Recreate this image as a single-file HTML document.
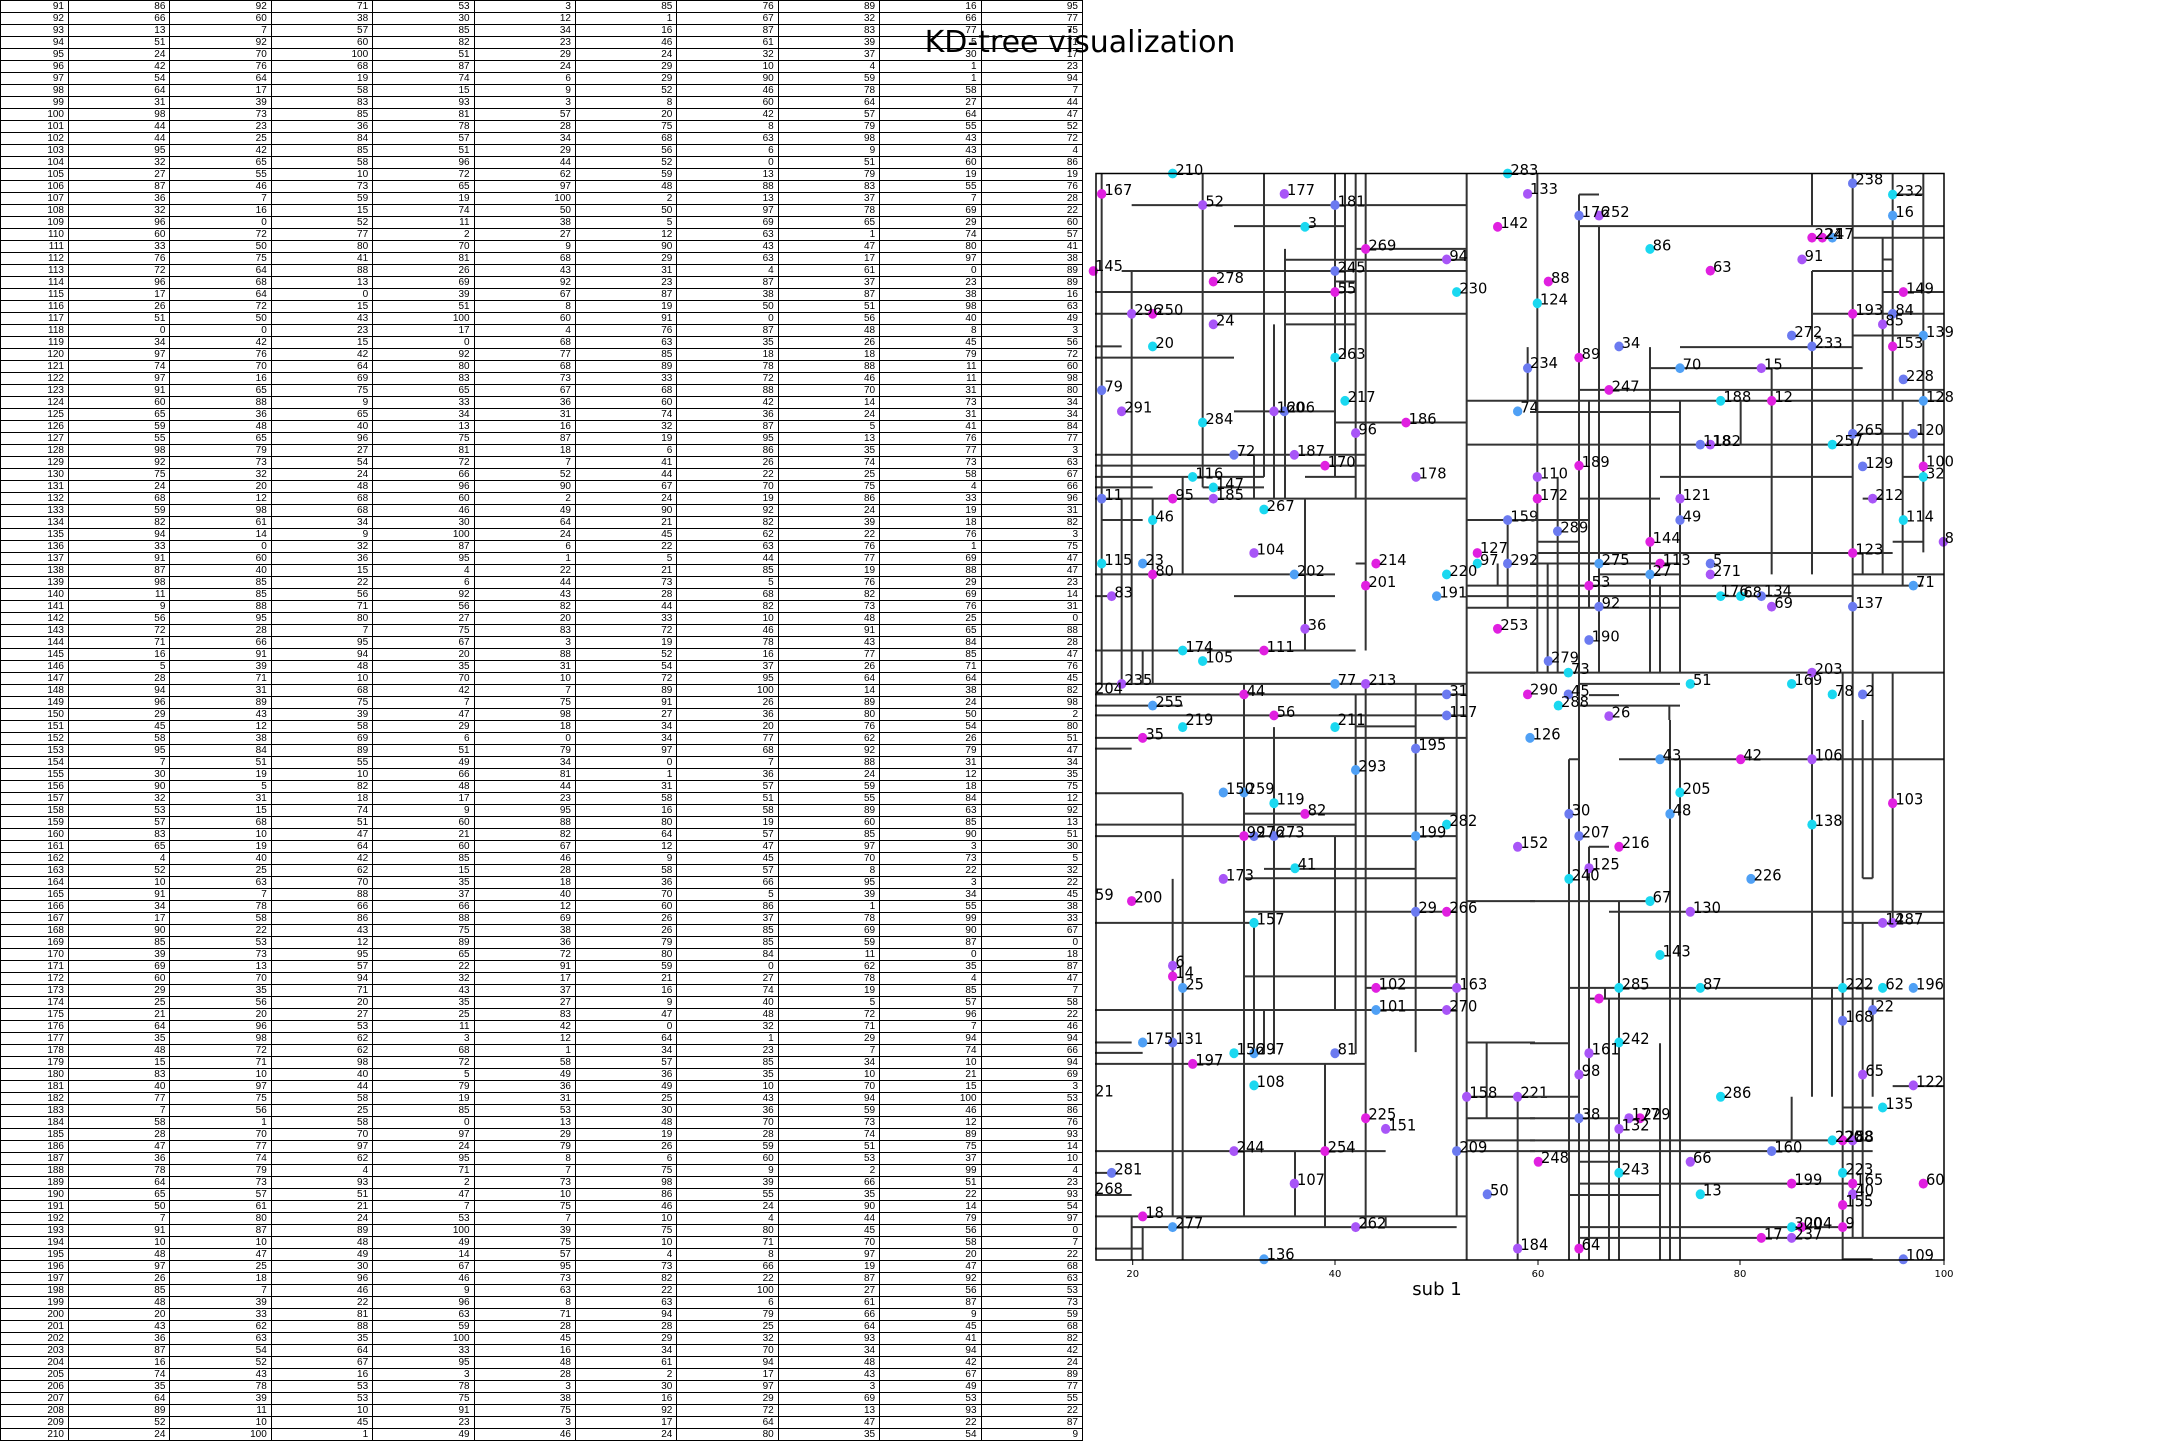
<!DOCTYPE html>
<html><head><meta charset="utf-8"><style>
html,body{margin:0;padding:0;background:#fff;width:2160px;height:1440px;overflow:hidden}
table{position:absolute;left:0;top:0;border-collapse:collapse;font-family:"Liberation Sans Narrow","Liberation Sans",sans-serif;font-size:10px;table-layout:fixed;width:1083px}
td{height:11px;line-height:11px;padding:0 4px 0 0;border:1px solid #000;text-align:right;overflow:hidden;white-space:nowrap}
td:first-child{width:63px}
svg{position:absolute;left:0;top:0}
.m{fill:#e020e0}.p{fill:#a855f7}.b{fill:#6b7af0}.l{fill:#4fa0f5}.c{fill:#1ad8f0}
.ln{fill:none;stroke:#333;stroke-width:2}
.lb{font-family:"DejaVu Sans","Liberation Sans",sans-serif;font-size:44px;fill:#000}
</style></head><body>
<table>
<tr><td>91<td>86<td>92<td>71<td>53<td>3<td>85<td>76<td>89<td>16<td>95
<tr><td>92<td>66<td>60<td>38<td>30<td>12<td>1<td>67<td>32<td>66<td>77
<tr><td>93<td>13<td>7<td>57<td>85<td>34<td>16<td>87<td>83<td>77<td>75
<tr><td>94<td>51<td>92<td>60<td>82<td>23<td>46<td>61<td>39<td>5<td>71
<tr><td>95<td>24<td>70<td>100<td>51<td>29<td>24<td>32<td>37<td>30<td>17
<tr><td>96<td>42<td>76<td>68<td>87<td>24<td>29<td>10<td>4<td>1<td>23
<tr><td>97<td>54<td>64<td>19<td>74<td>6<td>29<td>90<td>59<td>1<td>94
<tr><td>98<td>64<td>17<td>58<td>15<td>9<td>52<td>46<td>78<td>58<td>7
<tr><td>99<td>31<td>39<td>83<td>93<td>3<td>8<td>60<td>64<td>27<td>44
<tr><td>100<td>98<td>73<td>85<td>81<td>57<td>20<td>42<td>57<td>64<td>47
<tr><td>101<td>44<td>23<td>36<td>78<td>28<td>75<td>8<td>79<td>55<td>52
<tr><td>102<td>44<td>25<td>84<td>57<td>34<td>68<td>63<td>98<td>43<td>72
<tr><td>103<td>95<td>42<td>85<td>51<td>29<td>56<td>6<td>9<td>43<td>4
<tr><td>104<td>32<td>65<td>58<td>96<td>44<td>52<td>0<td>51<td>60<td>86
<tr><td>105<td>27<td>55<td>10<td>72<td>62<td>59<td>13<td>79<td>19<td>19
<tr><td>106<td>87<td>46<td>73<td>65<td>97<td>48<td>88<td>83<td>55<td>76
<tr><td>107<td>36<td>7<td>59<td>19<td>100<td>2<td>13<td>37<td>7<td>28
<tr><td>108<td>32<td>16<td>15<td>74<td>50<td>50<td>97<td>78<td>69<td>22
<tr><td>109<td>96<td>0<td>52<td>11<td>38<td>5<td>69<td>65<td>29<td>60
<tr><td>110<td>60<td>72<td>77<td>2<td>27<td>12<td>63<td>1<td>74<td>57
<tr><td>111<td>33<td>50<td>80<td>70<td>9<td>90<td>43<td>47<td>80<td>41
<tr><td>112<td>76<td>75<td>41<td>81<td>68<td>29<td>63<td>17<td>97<td>38
<tr><td>113<td>72<td>64<td>88<td>26<td>43<td>31<td>4<td>61<td>0<td>89
<tr><td>114<td>96<td>68<td>13<td>69<td>92<td>23<td>87<td>37<td>23<td>89
<tr><td>115<td>17<td>64<td>0<td>39<td>67<td>87<td>38<td>87<td>38<td>16
<tr><td>116<td>26<td>72<td>15<td>51<td>8<td>19<td>50<td>51<td>98<td>63
<tr><td>117<td>51<td>50<td>43<td>100<td>60<td>91<td>0<td>56<td>40<td>49
<tr><td>118<td>0<td>0<td>23<td>17<td>4<td>76<td>87<td>48<td>8<td>3
<tr><td>119<td>34<td>42<td>15<td>0<td>68<td>63<td>35<td>26<td>45<td>56
<tr><td>120<td>97<td>76<td>42<td>92<td>77<td>85<td>18<td>18<td>79<td>72
<tr><td>121<td>74<td>70<td>64<td>80<td>68<td>89<td>78<td>88<td>11<td>60
<tr><td>122<td>97<td>16<td>69<td>83<td>73<td>33<td>72<td>46<td>11<td>98
<tr><td>123<td>91<td>65<td>75<td>65<td>67<td>68<td>88<td>70<td>31<td>80
<tr><td>124<td>60<td>88<td>9<td>33<td>36<td>60<td>42<td>14<td>73<td>34
<tr><td>125<td>65<td>36<td>65<td>34<td>31<td>74<td>36<td>24<td>31<td>34
<tr><td>126<td>59<td>48<td>40<td>13<td>16<td>32<td>87<td>5<td>41<td>84
<tr><td>127<td>55<td>65<td>96<td>75<td>87<td>19<td>95<td>13<td>76<td>77
<tr><td>128<td>98<td>79<td>27<td>81<td>18<td>6<td>86<td>35<td>77<td>3
<tr><td>129<td>92<td>73<td>54<td>72<td>7<td>41<td>26<td>74<td>73<td>63
<tr><td>130<td>75<td>32<td>24<td>66<td>52<td>44<td>22<td>25<td>58<td>67
<tr><td>131<td>24<td>20<td>48<td>96<td>90<td>67<td>70<td>75<td>4<td>66
<tr><td>132<td>68<td>12<td>68<td>60<td>2<td>24<td>19<td>86<td>33<td>96
<tr><td>133<td>59<td>98<td>68<td>46<td>49<td>90<td>92<td>24<td>19<td>31
<tr><td>134<td>82<td>61<td>34<td>30<td>64<td>21<td>82<td>39<td>18<td>82
<tr><td>135<td>94<td>14<td>9<td>100<td>24<td>45<td>62<td>22<td>76<td>3
<tr><td>136<td>33<td>0<td>32<td>87<td>6<td>22<td>63<td>76<td>1<td>75
<tr><td>137<td>91<td>60<td>36<td>95<td>1<td>5<td>44<td>77<td>69<td>47
<tr><td>138<td>87<td>40<td>15<td>4<td>22<td>21<td>85<td>19<td>88<td>47
<tr><td>139<td>98<td>85<td>22<td>6<td>44<td>73<td>5<td>76<td>29<td>23
<tr><td>140<td>11<td>85<td>56<td>92<td>43<td>28<td>68<td>82<td>69<td>14
<tr><td>141<td>9<td>88<td>71<td>56<td>82<td>44<td>82<td>73<td>76<td>31
<tr><td>142<td>56<td>95<td>80<td>27<td>20<td>33<td>10<td>48<td>25<td>0
<tr><td>143<td>72<td>28<td>7<td>75<td>83<td>72<td>46<td>91<td>65<td>88
<tr><td>144<td>71<td>66<td>95<td>67<td>3<td>19<td>78<td>43<td>84<td>28
<tr><td>145<td>16<td>91<td>94<td>20<td>88<td>52<td>16<td>77<td>85<td>47
<tr><td>146<td>5<td>39<td>48<td>35<td>31<td>54<td>37<td>26<td>71<td>76
<tr><td>147<td>28<td>71<td>10<td>70<td>10<td>72<td>95<td>64<td>64<td>45
<tr><td>148<td>94<td>31<td>68<td>42<td>7<td>89<td>100<td>14<td>38<td>82
<tr><td>149<td>96<td>89<td>75<td>7<td>75<td>91<td>26<td>89<td>24<td>98
<tr><td>150<td>29<td>43<td>39<td>47<td>98<td>27<td>36<td>80<td>50<td>2
<tr><td>151<td>45<td>12<td>58<td>29<td>18<td>34<td>20<td>76<td>54<td>80
<tr><td>152<td>58<td>38<td>69<td>6<td>0<td>34<td>77<td>62<td>26<td>51
<tr><td>153<td>95<td>84<td>89<td>51<td>79<td>97<td>68<td>92<td>79<td>47
<tr><td>154<td>7<td>51<td>55<td>49<td>34<td>0<td>7<td>88<td>31<td>34
<tr><td>155<td>30<td>19<td>10<td>66<td>81<td>1<td>36<td>24<td>12<td>35
<tr><td>156<td>90<td>5<td>82<td>48<td>44<td>31<td>57<td>59<td>18<td>75
<tr><td>157<td>32<td>31<td>18<td>17<td>23<td>58<td>51<td>55<td>84<td>12
<tr><td>158<td>53<td>15<td>74<td>9<td>95<td>16<td>58<td>89<td>63<td>92
<tr><td>159<td>57<td>68<td>51<td>60<td>88<td>80<td>19<td>60<td>85<td>13
<tr><td>160<td>83<td>10<td>47<td>21<td>82<td>64<td>57<td>85<td>90<td>51
<tr><td>161<td>65<td>19<td>64<td>60<td>67<td>12<td>47<td>97<td>3<td>30
<tr><td>162<td>4<td>40<td>42<td>85<td>46<td>9<td>45<td>70<td>73<td>5
<tr><td>163<td>52<td>25<td>62<td>15<td>28<td>58<td>57<td>8<td>22<td>32
<tr><td>164<td>10<td>63<td>70<td>35<td>18<td>36<td>66<td>95<td>3<td>22
<tr><td>165<td>91<td>7<td>88<td>37<td>40<td>70<td>5<td>39<td>34<td>45
<tr><td>166<td>34<td>78<td>66<td>66<td>12<td>60<td>86<td>1<td>55<td>38
<tr><td>167<td>17<td>58<td>86<td>88<td>69<td>26<td>37<td>78<td>99<td>33
<tr><td>168<td>90<td>22<td>43<td>75<td>38<td>26<td>85<td>69<td>90<td>67
<tr><td>169<td>85<td>53<td>12<td>89<td>36<td>79<td>85<td>59<td>87<td>0
<tr><td>170<td>39<td>73<td>95<td>65<td>72<td>80<td>84<td>11<td>0<td>18
<tr><td>171<td>69<td>13<td>57<td>22<td>91<td>59<td>0<td>62<td>35<td>87
<tr><td>172<td>60<td>70<td>94<td>32<td>17<td>21<td>27<td>78<td>4<td>47
<tr><td>173<td>29<td>35<td>71<td>43<td>37<td>16<td>74<td>19<td>85<td>7
<tr><td>174<td>25<td>56<td>20<td>35<td>27<td>9<td>40<td>5<td>57<td>58
<tr><td>175<td>21<td>20<td>27<td>25<td>83<td>47<td>48<td>72<td>96<td>22
<tr><td>176<td>64<td>96<td>53<td>11<td>42<td>0<td>32<td>71<td>7<td>46
<tr><td>177<td>35<td>98<td>62<td>3<td>12<td>64<td>1<td>29<td>94<td>94
<tr><td>178<td>48<td>72<td>62<td>68<td>1<td>34<td>23<td>7<td>74<td>66
<tr><td>179<td>15<td>71<td>98<td>72<td>58<td>57<td>85<td>34<td>10<td>94
<tr><td>180<td>83<td>10<td>40<td>5<td>49<td>36<td>35<td>10<td>21<td>69
<tr><td>181<td>40<td>97<td>44<td>79<td>36<td>49<td>10<td>70<td>15<td>3
<tr><td>182<td>77<td>75<td>58<td>19<td>31<td>25<td>43<td>94<td>100<td>53
<tr><td>183<td>7<td>56<td>25<td>85<td>53<td>30<td>36<td>59<td>46<td>86
<tr><td>184<td>58<td>1<td>58<td>0<td>13<td>48<td>70<td>73<td>12<td>76
<tr><td>185<td>28<td>70<td>70<td>97<td>29<td>19<td>28<td>74<td>89<td>93
<tr><td>186<td>47<td>77<td>97<td>24<td>79<td>26<td>59<td>51<td>75<td>14
<tr><td>187<td>36<td>74<td>62<td>95<td>8<td>6<td>60<td>53<td>37<td>10
<tr><td>188<td>78<td>79<td>4<td>71<td>7<td>75<td>9<td>2<td>99<td>4
<tr><td>189<td>64<td>73<td>93<td>2<td>73<td>98<td>39<td>66<td>51<td>23
<tr><td>190<td>65<td>57<td>51<td>47<td>10<td>86<td>55<td>35<td>22<td>93
<tr><td>191<td>50<td>61<td>21<td>7<td>75<td>46<td>24<td>90<td>14<td>54
<tr><td>192<td>7<td>80<td>24<td>53<td>7<td>10<td>4<td>44<td>79<td>97
<tr><td>193<td>91<td>87<td>89<td>100<td>39<td>75<td>80<td>45<td>56<td>0
<tr><td>194<td>10<td>10<td>48<td>49<td>75<td>10<td>71<td>70<td>58<td>7
<tr><td>195<td>48<td>47<td>49<td>14<td>57<td>4<td>8<td>97<td>20<td>22
<tr><td>196<td>97<td>25<td>30<td>67<td>95<td>73<td>66<td>19<td>47<td>68
<tr><td>197<td>26<td>18<td>96<td>46<td>73<td>82<td>22<td>87<td>92<td>63
<tr><td>198<td>85<td>7<td>46<td>9<td>63<td>22<td>100<td>27<td>56<td>53
<tr><td>199<td>48<td>39<td>22<td>96<td>8<td>63<td>6<td>61<td>87<td>73
<tr><td>200<td>20<td>33<td>81<td>63<td>71<td>94<td>79<td>66<td>9<td>59
<tr><td>201<td>43<td>62<td>88<td>59<td>28<td>28<td>25<td>64<td>45<td>68
<tr><td>202<td>36<td>63<td>35<td>100<td>45<td>29<td>32<td>93<td>41<td>82
<tr><td>203<td>87<td>54<td>64<td>33<td>16<td>34<td>70<td>34<td>94<td>42
<tr><td>204<td>16<td>52<td>67<td>95<td>48<td>61<td>94<td>48<td>42<td>24
<tr><td>205<td>74<td>43<td>16<td>3<td>28<td>2<td>17<td>43<td>67<td>89
<tr><td>206<td>35<td>78<td>53<td>78<td>3<td>30<td>97<td>3<td>49<td>77
<tr><td>207<td>64<td>39<td>53<td>75<td>38<td>16<td>29<td>69<td>53<td>55
<tr><td>208<td>89<td>11<td>10<td>91<td>75<td>92<td>72<td>13<td>93<td>22
<tr><td>209<td>52<td>10<td>45<td>23<td>3<td>17<td>64<td>47<td>22<td>87
<tr><td>210<td>24<td>100<td>1<td>49<td>46<td>24<td>80<td>35<td>54<td>9
</table>
<svg width="2160" height="1440" viewBox="0 0 2160 1440">
<text x="1080" y="52" text-anchor="middle" font-family="DejaVu Sans, Liberation Sans, sans-serif" font-size="30">KD-tree visualization</text>

<!-- Q1 -->
<g transform="translate(1095,170) scale(0.33333,0.35075)">
<path class="ln" vector-effect="non-scaling-stroke" d="M20 10V1465 M323 10V905 M507 10V875 M720 10V875 M750 10V535 M782 10V935 M812 10V1370 M1115 10V1568 M110 288V1465 M570 225V935 M537 440V935 M477 812V935 M263 875V1153 M173 935V1465 M80 935V1465 M143 1370V1465 M630 935V1370 M1298 505V660 M1208 1122V1185 M1238 998V1248 M447 1465V1568 M962 1465V1568 M782 1495V1568 M812 1465V1568 M1085 1495V1568 M110 100H1115 M417 160H750 M782 225H1115 M570 256H1115 M80 288H1115 M720 318H782 M0 348H782 M0 410H1115 M570 440H782 M0 503H80 M0 535H417 M417 688H720 M720 720H1115 M0 812H812 M0 843H812 M0 875H507 M630 875H782 M0 905H173 M323 905H507 M0 937H1115 M20 998H143 M0 1153H720 M782 1122H812 M0 1215H50 M417 1215H720 M0 1370H782 M0 1465H1115 M0 1495H1115 M0 1527H263 M0 1555H1115 M1115 658H1320 M1115 783H1320 M1115 998H1320 M1115 1185H1320 M1115 1215H1320 M1115 1248H1320 M1115 1433H1320"/>
<g>
<circle cx="20" cy="68" r="14" class="m"/><circle cx="323" cy="100" r="14" class="p"/><circle cx="568" cy="68" r="14" class="p"/><circle cx="720" cy="100" r="14" class="b"/><circle cx="630" cy="162" r="14" class="c"/><circle cx="812" cy="225" r="14" class="m"/><circle cx="1055" cy="255" r="14" class="p"/><circle cx="-5" cy="288" r="14" class="m"/><circle cx="355" cy="318" r="14" class="m"/><circle cx="720" cy="288" r="14" class="b"/><circle cx="720" cy="348" r="14" class="m"/><circle cx="1085" cy="348" r="14" class="c"/><circle cx="110" cy="410" r="14" class="p"/><circle cx="173" cy="410" r="14" class="m"/><circle cx="355" cy="440" r="14" class="p"/><circle cx="173" cy="503" r="14" class="c"/><circle cx="720" cy="535" r="14" class="c"/><circle cx="20" cy="628" r="14" class="b"/><circle cx="80" cy="688" r="14" class="p"/><circle cx="323" cy="720" r="14" class="c"/><circle cx="537" cy="688" r="14" class="p"/><circle cx="568" cy="688" r="14" class="b"/><circle cx="750" cy="658" r="14" class="c"/><circle cx="933" cy="720" r="14" class="m"/><circle cx="782" cy="750" r="14" class="p"/><circle cx="417" cy="812" r="14" class="b"/><circle cx="598" cy="812" r="14" class="p"/><circle cx="690" cy="843" r="14" class="m"/><circle cx="963" cy="875" r="14" class="p"/><circle cx="293" cy="875" r="14" class="c"/><circle cx="355" cy="905" r="14" class="c"/><circle cx="355" cy="937" r="14" class="p"/><circle cx="233" cy="937" r="14" class="m"/><circle cx="20" cy="937" r="14" class="b"/><circle cx="507" cy="968" r="14" class="c"/><circle cx="173" cy="998" r="14" class="c"/><circle cx="477" cy="1092" r="14" class="p"/><circle cx="20" cy="1122" r="14" class="c"/><circle cx="143" cy="1122" r="14" class="l"/><circle cx="173" cy="1153" r="14" class="m"/><circle cx="598" cy="1153" r="14" class="l"/><circle cx="843" cy="1122" r="14" class="m"/><circle cx="812" cy="1185" r="14" class="m"/><circle cx="1055" cy="1153" r="14" class="c"/><circle cx="1025" cy="1215" r="14" class="l"/><circle cx="1147" cy="1092" r="14" class="m"/><circle cx="1147" cy="1122" r="14" class="c"/><circle cx="1238" cy="1122" r="14" class="b"/><circle cx="50" cy="1215" r="14" class="p"/><circle cx="630" cy="1308" r="14" class="p"/><circle cx="1208" cy="1308" r="14" class="m"/><circle cx="263" cy="1370" r="14" class="c"/><circle cx="507" cy="1370" r="14" class="m"/><circle cx="323" cy="1400" r="14" class="c"/><circle cx="80" cy="1465" r="14" class="p"/><circle cx="720" cy="1465" r="14" class="l"/><circle cx="812" cy="1465" r="14" class="p"/><circle cx="447" cy="1495" r="14" class="m"/><circle cx="1055" cy="1495" r="14" class="b"/><circle cx="173" cy="1527" r="14" class="l"/><circle cx="537" cy="1555" r="14" class="m"/><circle cx="1055" cy="1555" r="14" class="b"/><circle cx="1208" cy="162" r="14" class="m"/><circle cx="1298" cy="68" r="14" class="p"/><circle cx="1238" cy="998" r="14" class="b"/><circle cx="1268" cy="688" r="14" class="l"/><circle cx="233" cy="10" r="14" class="c"/><circle cx="1238" cy="10" r="14" class="c"/><circle cx="1298" cy="565" r="14" class="b"/><circle cx="1298" cy="1495" r="14" class="m"/>
</g>
<g class="lb">
<text x="28" y="72">167</text><text x="331" y="104">52</text><text x="576" y="72">177</text><text x="728" y="104">181</text><text x="638" y="166">3</text><text x="820" y="229">269</text><text x="1063" y="259">94</text><text x="0" y="288">145</text><text x="363" y="322">278</text><text x="728" y="292">245</text><text x="728" y="352">55</text><text x="1093" y="352">230</text><text x="118" y="414">296</text><text x="181" y="414">250</text><text x="363" y="444">24</text><text x="181" y="507">20</text><text x="728" y="539">263</text><text x="28" y="632">79</text><text x="88" y="692">291</text><text x="331" y="724">284</text><text x="545" y="692">160</text><text x="576" y="692">206</text><text x="758" y="662">217</text><text x="941" y="724">186</text><text x="790" y="754">96</text><text x="425" y="816">72</text><text x="606" y="816">187</text><text x="698" y="847">170</text><text x="971" y="879">178</text><text x="301" y="879">116</text><text x="363" y="909">147</text><text x="363" y="941">185</text><text x="241" y="941">95</text><text x="28" y="941">11</text><text x="515" y="972">267</text><text x="181" y="1002">46</text><text x="485" y="1096">104</text><text x="28" y="1126">115</text><text x="151" y="1126">23</text><text x="181" y="1157">80</text><text x="606" y="1157">202</text><text x="851" y="1126">214</text><text x="820" y="1189">201</text><text x="1063" y="1157">220</text><text x="1033" y="1219">191</text><text x="1155" y="1092">127</text><text x="1155" y="1126">97</text><text x="1246" y="1126">292</text><text x="58" y="1219">83</text><text x="638" y="1312">36</text><text x="1216" y="1312">253</text><text x="271" y="1374">174</text><text x="515" y="1374">111</text><text x="331" y="1404">105</text><text x="88" y="1469">235</text><text x="728" y="1469">77</text><text x="820" y="1469">213</text><text x="0" y="1492">204</text><text x="455" y="1499">44</text><text x="1063" y="1499">31</text><text x="181" y="1531">255</text><text x="545" y="1559">56</text><text x="1063" y="1559">117</text><text x="1216" y="166">142</text><text x="241" y="14">210</text><text x="1246" y="14">283</text><text x="1246" y="1002">159</text><text x="1276" y="692">74</text>
</g></g>

<!-- Q2 -->
<g transform="translate(1530,170) scale(0.33333,0.35075)">
<path class="ln" vector-effect="non-scaling-stroke" d="M22 10V1433 M147 70V1568 M207 160V1433 M177 658V1248 M360 505V1433 M390 1185V1433 M450 658V1433 M632 658V783 M725 565V1153 M846 10V160 M846 288V1153 M846 1433V1568 M968 10V1568 M1058 195V1153 M1088 10V655 M1088 1433V1568 M1180 10V1090 M1118 658V1185 M998 1092V1153 M53 1122V1433 M83 875V1433 M938 1433V1568 M1028 1433V1568 M418 1527V1568 M147 70H207 M1088 70H1180 M147 160H1243 M968 193H1243 M1058 255H1088 M846 288H1088 M1058 348H1243 M846 410H1243 M968 472H1180 M450 505H968 M360 565H998 M147 627H1243 M0 658H1243 M0 690H450 M0 783H1243 M968 752H1180 M390 875H968 M1118 875H1180 M147 937H390 M998 937H1060 M0 998H177 M22 1060H147 M1088 1060H1180 M22 1092H1088 M0 1122H450 M207 1153H450 M968 1153H1243 M0 1185H1180 M0 1215H968 M0 1248H450 M0 1433H1243 M147 1465H450 M177 1497H267 M147 1527H450"/>
<g>
<circle cx="968" cy="38" r="14" class="b"/><circle cx="1088" cy="70" r="14" class="c"/><circle cx="1088" cy="130" r="14" class="l"/><circle cx="147" cy="130" r="14" class="b"/><circle cx="207" cy="130" r="14" class="p"/><circle cx="360" cy="225" r="14" class="c"/><circle cx="541" cy="287" r="14" class="m"/><circle cx="816" cy="255" r="14" class="p"/><circle cx="846" cy="193" r="14" class="m"/><circle cx="877" cy="193" r="14" class="m"/><circle cx="907" cy="193" r="14" class="l"/><circle cx="55" cy="318" r="14" class="m"/><circle cx="22" cy="380" r="14" class="c"/><circle cx="1120" cy="348" r="14" class="m"/><circle cx="968" cy="410" r="14" class="m"/><circle cx="1088" cy="410" r="14" class="b"/><circle cx="1058" cy="440" r="14" class="p"/><circle cx="1180" cy="472" r="14" class="l"/><circle cx="785" cy="472" r="14" class="b"/><circle cx="846" cy="503" r="14" class="b"/><circle cx="1088" cy="503" r="14" class="m"/><circle cx="267" cy="503" r="14" class="b"/><circle cx="147" cy="535" r="14" class="m"/><circle cx="450" cy="565" r="14" class="l"/><circle cx="694" cy="565" r="14" class="p"/><circle cx="1120" cy="597" r="14" class="b"/><circle cx="237" cy="627" r="14" class="m"/><circle cx="572" cy="658" r="14" class="c"/><circle cx="725" cy="658" r="14" class="m"/><circle cx="1180" cy="658" r="14" class="l"/><circle cx="511" cy="783" r="14" class="b"/><circle cx="541" cy="783" r="14" class="p"/><circle cx="907" cy="783" r="14" class="c"/><circle cx="968" cy="752" r="14" class="b"/><circle cx="1150" cy="752" r="14" class="b"/><circle cx="998" cy="845" r="14" class="b"/><circle cx="1180" cy="845" r="14" class="m"/><circle cx="1180" cy="875" r="14" class="c"/><circle cx="147" cy="843" r="14" class="m"/><circle cx="22" cy="875" r="14" class="p"/><circle cx="22" cy="937" r="14" class="m"/><circle cx="450" cy="937" r="14" class="p"/><circle cx="1028" cy="937" r="14" class="p"/><circle cx="450" cy="998" r="14" class="b"/><circle cx="1120" cy="998" r="14" class="c"/><circle cx="83" cy="1030" r="14" class="b"/><circle cx="360" cy="1060" r="14" class="m"/><circle cx="1240" cy="1060" r="14" class="p"/><circle cx="968" cy="1092" r="14" class="m"/><circle cx="207" cy="1122" r="14" class="l"/><circle cx="390" cy="1122" r="14" class="m"/><circle cx="541" cy="1122" r="14" class="b"/><circle cx="360" cy="1153" r="14" class="l"/><circle cx="541" cy="1153" r="14" class="p"/><circle cx="177" cy="1185" r="14" class="m"/><circle cx="1150" cy="1185" r="14" class="l"/><circle cx="572" cy="1215" r="14" class="c"/><circle cx="632" cy="1215" r="14" class="c"/><circle cx="694" cy="1215" r="14" class="b"/><circle cx="725" cy="1245" r="14" class="p"/><circle cx="207" cy="1245" r="14" class="b"/><circle cx="968" cy="1245" r="14" class="b"/><circle cx="177" cy="1340" r="14" class="b"/><circle cx="55" cy="1400" r="14" class="b"/><circle cx="115" cy="1433" r="14" class="c"/><circle cx="846" cy="1433" r="14" class="p"/><circle cx="481" cy="1465" r="14" class="c"/><circle cx="785" cy="1465" r="14" class="c"/><circle cx="115" cy="1495" r="14" class="b"/><circle cx="907" cy="1495" r="14" class="c"/><circle cx="998" cy="1495" r="14" class="b"/><circle cx="85" cy="1527" r="14" class="c"/><circle cx="237" cy="1557" r="14" class="p"/>
</g>
<g class="lb">
<text x="976" y="42">238</text><text x="1096" y="74">232</text><text x="1096" y="134">16</text><text x="155" y="134">176</text><text x="215" y="134">252</text><text x="368" y="229">86</text><text x="549" y="291">63</text><text x="824" y="259">91</text><text x="854" y="197">224</text><text x="885" y="197">21</text><text x="915" y="197">47</text><text x="63" y="322">88</text><text x="30" y="384">124</text><text x="1128" y="352">149</text><text x="976" y="414">193</text><text x="1096" y="414">84</text><text x="1066" y="444">85</text><text x="1188" y="476">139</text><text x="793" y="476">272</text><text x="854" y="507">233</text><text x="1096" y="507">153</text><text x="275" y="507">34</text><text x="155" y="539">89</text><text x="0" y="565">234</text><text x="458" y="569">70</text><text x="702" y="569">15</text><text x="1128" y="601">228</text><text x="245" y="631">247</text><text x="580" y="662">188</text><text x="733" y="662">12</text><text x="1188" y="662">128</text><text x="519" y="787">118</text><text x="549" y="787">182</text><text x="915" y="787">257</text><text x="976" y="756">265</text><text x="1158" y="756">120</text><text x="1006" y="849">129</text><text x="1188" y="845">100</text><text x="1188" y="879">32</text><text x="155" y="847">189</text><text x="30" y="879">110</text><text x="30" y="941">172</text><text x="458" y="941">121</text><text x="1036" y="941">212</text><text x="458" y="1002">49</text><text x="1128" y="1002">114</text><text x="91" y="1034">289</text><text x="368" y="1064">144</text><text x="1244" y="1064">8</text><text x="976" y="1096">123</text><text x="215" y="1126">275</text><text x="398" y="1126">113</text><text x="549" y="1126">5</text><text x="368" y="1157">27</text><text x="549" y="1157">271</text><text x="185" y="1189">53</text><text x="1158" y="1189">71</text><text x="572" y="1215">176</text><text x="640" y="1219">68</text><text x="702" y="1215">134</text><text x="733" y="1249">69</text><text x="215" y="1249">92</text><text x="976" y="1249">137</text><text x="185" y="1344">190</text><text x="63" y="1404">279</text><text x="123" y="1437">73</text><text x="854" y="1437">203</text><text x="489" y="1469">51</text><text x="793" y="1469">169</text><text x="0" y="1495">290</text><text x="123" y="1499">45</text><text x="915" y="1499">78</text><text x="1006" y="1499">2</text><text x="93" y="1531">288</text><text x="245" y="1561">26</text><text x="0" y="68">133</text>
</g></g>

<!-- Q3 -->
<g transform="translate(1095,720) scale(0.33333,0.35714)">
<path class="ln" vector-effect="non-scaling-stroke" d="M447 0V1390 M537 20V935 M782 0V935 M812 0V1420 M962 0V930 M1085 0V1390 M1115 0V1512 M263 205V1512 M233 445V1390 M477 568V935 M507 812V935 M720 325V810 M690 963V1420 M600 1207V1390 M110 1390V1512 M143 1420V1512 M1175 903V1115 M1268 1055V1512 M872 1390V1420 M782 18H962 M0 50H1115 M0 80H110 M0 205H263 M447 262H1085 M0 293H782 M0 325H1085 M507 417H962 M447 443H1085 M1115 507H1320 M447 537H1085 M0 568H477 M447 718H1085 M812 750H1085 M0 812H1085 M0 903H110 M1115 903H1320 M0 932H143 M0 963H812 M1115 1055H1320 M1115 1115H1320 M1115 1177H1320 M0 1207H872 M1115 1207H1320 M0 1268H50 M0 1330H110 M0 1390H1115 M110 1420H1085 M0 1480H143"/>
<g>
<circle cx="143" cy="50" r="14" class="m"/><circle cx="263" cy="20" r="14" class="c"/><circle cx="720" cy="20" r="14" class="c"/><circle cx="962" cy="80" r="14" class="b"/><circle cx="782" cy="140" r="14" class="l"/><circle cx="385" cy="203" r="14" class="l"/><circle cx="447" cy="203" r="14" class="l"/><circle cx="537" cy="233" r="14" class="c"/><circle cx="630" cy="263" r="14" class="m"/><circle cx="1055" cy="293" r="14" class="c"/><circle cx="447" cy="325" r="14" class="m"/><circle cx="477" cy="325" r="14" class="b"/><circle cx="537" cy="325" r="14" class="b"/><circle cx="962" cy="325" r="14" class="l"/><circle cx="1268" cy="355" r="14" class="p"/><circle cx="600" cy="415" r="14" class="c"/><circle cx="385" cy="445" r="14" class="p"/><circle cx="110" cy="507" r="14" class="m"/><circle cx="962" cy="537" r="14" class="b"/><circle cx="1055" cy="537" r="14" class="m"/><circle cx="477" cy="568" r="14" class="c"/><circle cx="233" cy="688" r="14" class="p"/><circle cx="233" cy="718" r="14" class="m"/><circle cx="263" cy="750" r="14" class="l"/><circle cx="843" cy="750" r="14" class="m"/><circle cx="1085" cy="750" r="14" class="p"/><circle cx="843" cy="812" r="14" class="l"/><circle cx="1055" cy="812" r="14" class="p"/><circle cx="143" cy="903" r="14" class="l"/><circle cx="233" cy="903" r="14" class="b"/><circle cx="417" cy="933" r="14" class="c"/><circle cx="477" cy="933" r="14" class="l"/><circle cx="720" cy="933" r="14" class="b"/><circle cx="293" cy="963" r="14" class="m"/><circle cx="477" cy="1023" r="14" class="c"/><circle cx="1115" cy="1055" r="14" class="p"/><circle cx="1268" cy="1055" r="14" class="p"/><circle cx="812" cy="1115" r="14" class="m"/><circle cx="872" cy="1145" r="14" class="p"/><circle cx="417" cy="1207" r="14" class="p"/><circle cx="690" cy="1207" r="14" class="m"/><circle cx="1085" cy="1207" r="14" class="b"/><circle cx="50" cy="1268" r="14" class="b"/><circle cx="598" cy="1298" r="14" class="p"/><circle cx="1177" cy="1328" r="14" class="b"/><circle cx="143" cy="1390" r="14" class="m"/><circle cx="233" cy="1420" r="14" class="l"/><circle cx="782" cy="1420" r="14" class="p"/><circle cx="507" cy="1510" r="14" class="l"/><circle cx="1268" cy="1480" r="14" class="p"/>
</g>
<g class="lb">
<text x="151" y="54">35</text><text x="271" y="14">219</text><text x="728" y="14">211</text><text x="970" y="84">195</text><text x="790" y="144">293</text><text x="393" y="207">150</text><text x="455" y="207">259</text><text x="545" y="237">119</text><text x="638" y="267">82</text><text x="1063" y="297">282</text><text x="455" y="329">99</text><text x="485" y="329">276</text><text x="545" y="329">273</text><text x="970" y="329">199</text><text x="1276" y="359">152</text><text x="608" y="419">41</text><text x="393" y="449">173</text><text x="118" y="511">200</text><text x="970" y="541">29</text><text x="1063" y="541">266</text><text x="485" y="572">157</text><text x="241" y="692">6</text><text x="241" y="722">14</text><text x="271" y="754">25</text><text x="851" y="754">102</text><text x="1093" y="754">163</text><text x="851" y="816">101</text><text x="1063" y="816">270</text><text x="151" y="907">175</text><text x="241" y="907">131</text><text x="425" y="937">156</text><text x="485" y="937">297</text><text x="728" y="937">81</text><text x="301" y="967">197</text><text x="485" y="1027">108</text><text x="0" y="1054">21</text><text x="1123" y="1059">158</text><text x="1276" y="1059">221</text><text x="820" y="1119">225</text><text x="880" y="1149">151</text><text x="425" y="1211">244</text><text x="698" y="1211">254</text><text x="1093" y="1211">209</text><text x="58" y="1272">281</text><text x="606" y="1302">107</text><text x="1185" y="1332">50</text><text x="0" y="1327">268</text><text x="151" y="1394">18</text><text x="241" y="1424">277</text><text x="790" y="1424">262</text><text x="515" y="1510">136</text><text x="1276" y="1484">184</text><text x="0" y="504">59</text>
</g></g>

<!-- Q4 -->
<g transform="translate(1530,720) scale(0.33333,0.35714)">
<path class="ln" vector-effect="non-scaling-stroke" d="M147 0V1512 M117 110V1512 M420 0V1512 M450 110V1512 M177 355V1512 M267 507V1512 M237 780V1512 M390 905V1512 M846 0V1055 M938 0V1512 M968 0V1450 M998 0V443 M1028 0V443 M998 568V1450 M1028 780V1055 M1088 0V568 M906 750V1055 M785 1055V1177 M225 750V780 M117 110H147 M267 110H1243 M177 355H237 M998 443H1028 M0 507H360 M237 537H1243 M938 568H1243 M117 750H1028 M177 780H1243 M0 905H117 M1088 1025H1243 M0 1055H147 M938 1085H1028 M0 1115H267 M0 1177H1028 M0 1207H1028 M147 1237H267 M147 1298H968 M117 1330H390 M147 1420H968 M147 1450H1243 M938 1510H1028"/>
<g>
<circle cx="0" cy="50" r="14" class="l"/><circle cx="390" cy="110" r="14" class="l"/><circle cx="632" cy="110" r="14" class="m"/><circle cx="846" cy="110" r="14" class="p"/><circle cx="450" cy="203" r="14" class="c"/><circle cx="1088" cy="233" r="14" class="m"/><circle cx="117" cy="263" r="14" class="b"/><circle cx="420" cy="263" r="14" class="l"/><circle cx="846" cy="293" r="14" class="c"/><circle cx="147" cy="325" r="14" class="b"/><circle cx="267" cy="355" r="14" class="m"/><circle cx="177" cy="415" r="14" class="p"/><circle cx="117" cy="445" r="14" class="c"/><circle cx="663" cy="445" r="14" class="l"/><circle cx="360" cy="507" r="14" class="c"/><circle cx="481" cy="537" r="14" class="p"/><circle cx="1058" cy="568" r="14" class="p"/><circle cx="1088" cy="568" r="14" class="p"/><circle cx="390" cy="658" r="14" class="c"/><circle cx="267" cy="750" r="14" class="c"/><circle cx="511" cy="750" r="14" class="c"/><circle cx="938" cy="750" r="14" class="c"/><circle cx="1058" cy="750" r="14" class="c"/><circle cx="1150" cy="750" r="14" class="l"/><circle cx="207" cy="780" r="14" class="m"/><circle cx="1028" cy="812" r="14" class="b"/><circle cx="938" cy="842" r="14" class="b"/><circle cx="267" cy="903" r="14" class="c"/><circle cx="177" cy="933" r="14" class="p"/><circle cx="147" cy="993" r="14" class="p"/><circle cx="998" cy="993" r="14" class="p"/><circle cx="1150" cy="1023" r="14" class="p"/><circle cx="572" cy="1055" r="14" class="c"/><circle cx="1058" cy="1085" r="14" class="c"/><circle cx="147" cy="1115" r="14" class="b"/><circle cx="297" cy="1115" r="14" class="p"/><circle cx="330" cy="1115" r="14" class="m"/><circle cx="267" cy="1145" r="14" class="p"/><circle cx="725" cy="1207" r="14" class="b"/><circle cx="907" cy="1177" r="14" class="c"/><circle cx="938" cy="1177" r="14" class="m"/><circle cx="968" cy="1177" r="14" class="p"/><circle cx="25" cy="1237" r="14" class="m"/><circle cx="481" cy="1237" r="14" class="p"/><circle cx="267" cy="1268" r="14" class="c"/><circle cx="938" cy="1268" r="14" class="c"/><circle cx="785" cy="1298" r="14" class="m"/><circle cx="1180" cy="1298" r="14" class="m"/><circle cx="968" cy="1298" r="14" class="m"/><circle cx="511" cy="1328" r="14" class="c"/><circle cx="968" cy="1328" r="14" class="p"/><circle cx="938" cy="1358" r="14" class="m"/><circle cx="785" cy="1420" r="14" class="c"/><circle cx="815" cy="1420" r="14" class="m"/><circle cx="938" cy="1420" r="14" class="m"/><circle cx="694" cy="1450" r="14" class="m"/><circle cx="785" cy="1450" r="14" class="p"/><circle cx="147" cy="1480" r="14" class="m"/><circle cx="1120" cy="1510" r="14" class="b"/>
</g>
<g class="lb">
<text x="8" y="54">126</text><text x="398" y="114">43</text><text x="640" y="114">42</text><text x="854" y="114">106</text><text x="458" y="207">205</text><text x="1096" y="237">103</text><text x="125" y="267">30</text><text x="428" y="267">48</text><text x="854" y="297">138</text><text x="155" y="329">207</text><text x="275" y="359">216</text><text x="185" y="419">125</text><text x="125" y="449">240</text><text x="671" y="449">226</text><text x="368" y="511">67</text><text x="489" y="541">130</text><text x="1066" y="572">14</text><text x="1096" y="572">287</text><text x="398" y="662">143</text><text x="275" y="754">285</text><text x="519" y="754">87</text><text x="946" y="754">222</text><text x="1066" y="754">62</text><text x="1158" y="754">196</text><text x="1036" y="816">22</text><text x="946" y="846">168</text><text x="275" y="907">242</text><text x="185" y="937">161</text><text x="155" y="997">98</text><text x="1006" y="997">65</text><text x="1158" y="1027">122</text><text x="580" y="1059">286</text><text x="1066" y="1089">135</text><text x="155" y="1119">38</text><text x="305" y="1119">177</text><text x="338" y="1119">229</text><text x="275" y="1149">132</text><text x="733" y="1211">160</text><text x="915" y="1181">220</text><text x="946" y="1181">258</text><text x="976" y="1181">88</text><text x="33" y="1241">248</text><text x="489" y="1241">66</text><text x="275" y="1272">243</text><text x="946" y="1272">223</text><text x="793" y="1302">199</text><text x="1188" y="1302">60</text><text x="976" y="1302">165</text><text x="519" y="1332">13</text><text x="976" y="1332">40</text><text x="946" y="1362">155</text><text x="793" y="1424">300</text><text x="823" y="1424">204</text><text x="946" y="1424">9</text><text x="702" y="1454">17</text><text x="793" y="1454">237</text><text x="155" y="1484">64</text><text x="1128" y="1514">109</text>
</g></g>

<!-- frame & axes -->
<rect x="1096" y="173.5" width="848" height="1086.5" fill="none" stroke="#000" stroke-width="1.5"/>
<g stroke="#000" stroke-width="1">
<path d="M1132.7 1260V1265 M1335 1260V1265 M1538 1260V1265 M1740 1260V1265 M1944 1260V1265"/>
</g>
<g font-family="DejaVu Sans, Liberation Sans, sans-serif" font-size="10" text-anchor="middle">
<text x="1132.7" y="1277">20</text><text x="1335" y="1277">40</text><text x="1538" y="1277">60</text><text x="1740" y="1277">80</text><text x="1944" y="1277">100</text>
</g>
<text x="1437" y="1295" text-anchor="middle" font-family="DejaVu Sans, Liberation Sans, sans-serif" font-size="18">sub 1</text>
</svg>
</body></html>
